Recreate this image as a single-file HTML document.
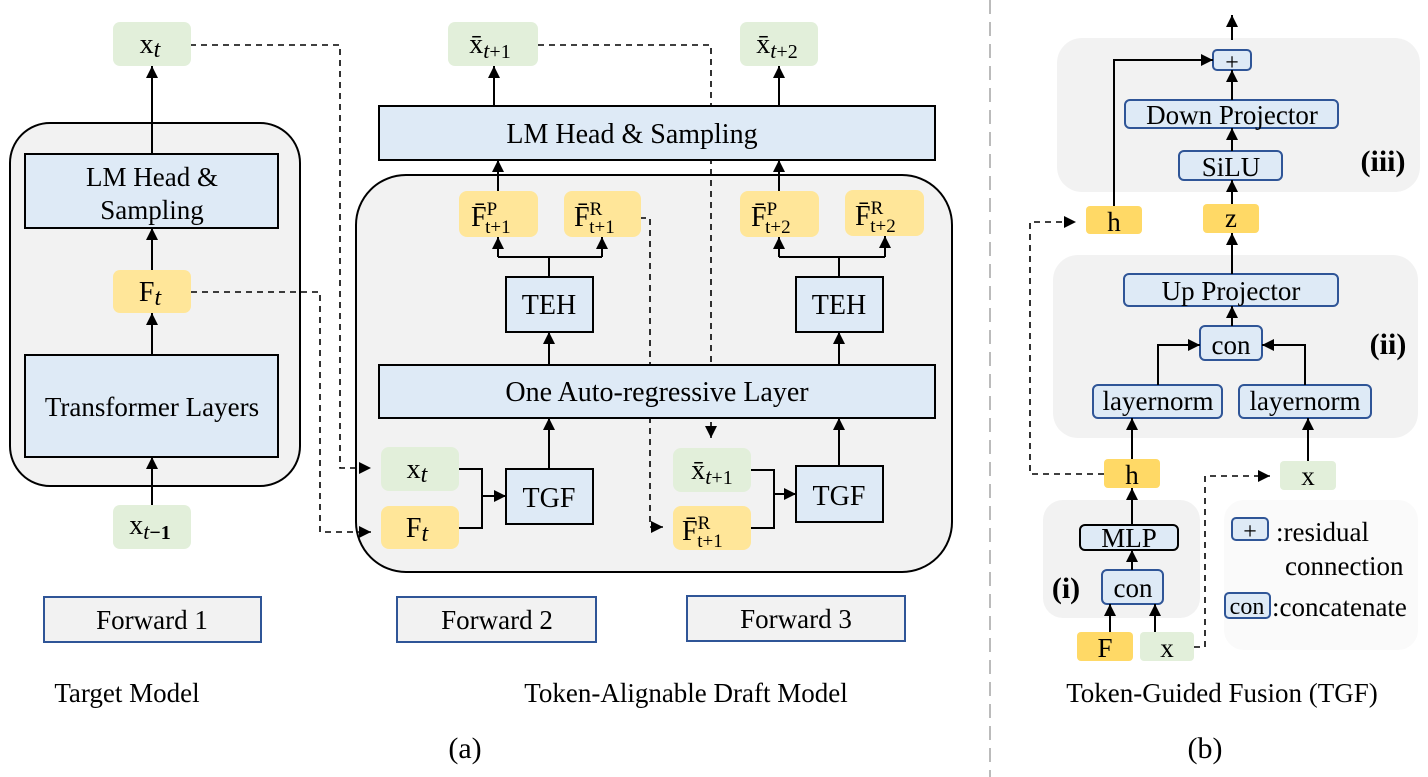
<!DOCTYPE html>
<html><head><meta charset="utf-8"><style>
html,body{margin:0;padding:0;background:#fff;}
svg{display:block;font-family:"Liberation Serif",serif;}
</style></head><body>
<svg width="1428" height="777" viewBox="0 0 1428 777" xmlns="http://www.w3.org/2000/svg">
<defs>
<marker id="a" viewBox="0 0 10 10" refX="10" refY="5" markerWidth="12" markerHeight="12" markerUnits="userSpaceOnUse" orient="auto"><path d="M0,0L10,5L0,10z" fill="#000"/></marker>
</defs>
<line x1="990" y1="0" x2="990" y2="777" stroke="#bbb" stroke-width="2" stroke-dasharray="14,8"/>

<!-- big containers -->
<rect x="10" y="123" width="290" height="363" rx="40" fill="#f2f2f2" stroke="#000" stroke-width="2"/>
<rect x="356" y="175" width="596" height="397" rx="50" fill="#f2f2f2" stroke="#000" stroke-width="2"/>
<rect x="1057" y="38" width="363" height="154" rx="25" fill="#f2f2f2"/>
<rect x="1053" y="255" width="365" height="183" rx="25" fill="#f2f2f2"/>
<rect x="1043" y="500" width="157" height="118" rx="20" fill="#f2f2f2"/>
<rect x="1224" y="500" width="194" height="150" rx="20" fill="#fafafa"/>

<!-- dashed connectors -->
<g fill="none" stroke="#000" stroke-width="1.6" stroke-dasharray="6,5">
<path d="M190,45H340V468H371" marker-end="url(#a)"/>
<path d="M191,292H320V532H371" marker-end="url(#a)"/>
<path d="M538,45H711V438" marker-end="url(#a)"/>
<path d="M640,218H650V527H663" marker-end="url(#a)"/>
<path d="M1104,474H1030V222H1076" marker-end="url(#a)"/>
<path d="M1194,647H1205V476H1270" marker-end="url(#a)"/>
</g>

<!-- Target model -->
<rect x="25" y="154" width="253" height="74" fill="#deeaf6" stroke="#000" stroke-width="2"/>
<text x="152" y="186" font-size="27" text-anchor="middle">LM Head &amp;</text>
<text x="152" y="219" font-size="27" text-anchor="middle">Sampling</text>
<rect x="25" y="355" width="253" height="102" fill="#deeaf6" stroke="#000" stroke-width="2"/>
<text x="152" y="416" font-size="27" text-anchor="middle">Transformer Layers</text>
<rect x="113" y="22" width="78" height="44" rx="7" fill="#e2efda"/>
<text x="150" y="53" font-size="28" text-anchor="middle">x<tspan font-style="italic" font-size="24" dy="4">t</tspan></text>
<rect x="113" y="270" width="78" height="43" rx="7" fill="#ffe699"/>
<text x="150" y="301" font-size="28" text-anchor="middle">F<tspan font-style="italic" font-size="24" dy="4">t</tspan></text>
<rect x="113" y="505" width="78" height="44" rx="7" fill="#e2efda"/>
<text x="150" y="534" font-size="28" text-anchor="middle">x<tspan font-style="italic" font-size="22" dy="5">t</tspan><tspan font-size="20" font-weight="bold">−1</tspan></text>
<g stroke="#000" stroke-width="2" marker-end="url(#a)">
<line x1="152" y1="505" x2="152" y2="457"/>
<line x1="152" y1="355" x2="152" y2="313"/>
<line x1="152" y1="270" x2="152" y2="228"/>
<line x1="152" y1="154" x2="152" y2="66"/>
</g>
<rect x="44" y="597" width="217" height="45" fill="#f2f2f2" stroke="#2f5597" stroke-width="2"/>
<text x="152" y="629" font-size="27" text-anchor="middle">Forward 1</text>
<text x="127" y="702" font-size="27" text-anchor="middle">Target Model</text>

<!-- Draft model -->
<rect x="379" y="106" width="556" height="54" fill="#deeaf6" stroke="#000" stroke-width="2"/>
<text x="632" y="143" font-size="28" text-anchor="middle">LM Head &amp; Sampling</text>
<rect x="448" y="22" width="90" height="44" rx="7" fill="#e2efda"/>
<text x="490" y="53" font-size="28" text-anchor="middle">x̄<tspan font-style="italic" font-size="22" dy="5">t</tspan><tspan font-size="20">+1</tspan></text>
<rect x="740" y="22" width="78" height="44" rx="7" fill="#e2efda"/>
<text x="777" y="53" font-size="28" text-anchor="middle">x̄<tspan font-style="italic" font-size="22" dy="5">t</tspan><tspan font-size="20">+2</tspan></text>

<g font-size="28">
<rect x="459" y="191" width="79" height="46" rx="8" fill="#ffe699"/>
<text x="471" y="226">F̄<tspan font-size="19" dy="-11">P</tspan><tspan font-size="19" dx="-12" dy="18">t+1</tspan></text>
<rect x="564" y="191" width="77" height="46" rx="8" fill="#ffe699"/>
<text x="574" y="226">F̄<tspan font-size="19" dy="-11">R</tspan><tspan font-size="19" dx="-13" dy="18">t+1</tspan></text>
<rect x="740" y="191" width="79" height="46" rx="8" fill="#ffe699"/>
<text x="751" y="226">F̄<tspan font-size="19" dy="-11">P</tspan><tspan font-size="19" dx="-12" dy="18">t+2</tspan></text>
<rect x="845" y="190" width="79" height="46" rx="8" fill="#ffe699"/>
<text x="855" y="225">F̄<tspan font-size="19" dy="-11">R</tspan><tspan font-size="19" dx="-13" dy="18">t+2</tspan></text>
</g>

<rect x="506" y="277" width="87" height="55" fill="#deeaf6" stroke="#000" stroke-width="2"/>
<text x="549" y="314" font-size="28" text-anchor="middle">TEH</text>
<rect x="796" y="277" width="87" height="55" fill="#deeaf6" stroke="#000" stroke-width="2"/>
<text x="839" y="314" font-size="28" text-anchor="middle">TEH</text>
<rect x="379" y="365" width="556" height="53" fill="#deeaf6" stroke="#000" stroke-width="2"/>
<text x="657" y="401" font-size="28" text-anchor="middle">One Auto-regressive Layer</text>
<rect x="506" y="469" width="87" height="55" fill="#deeaf6" stroke="#000" stroke-width="2"/>
<text x="549" y="507" font-size="28" text-anchor="middle">TGF</text>
<rect x="796" y="466" width="87" height="56" fill="#deeaf6" stroke="#000" stroke-width="2"/>
<text x="839" y="505" font-size="28" text-anchor="middle">TGF</text>

<rect x="381" y="447" width="78" height="44" rx="8" fill="#e2efda"/>
<text x="417" y="478" font-size="28" text-anchor="middle">x<tspan font-style="italic" font-size="24" dy="4">t</tspan></text>
<rect x="381" y="506" width="78" height="43" rx="8" fill="#ffe699"/>
<text x="417" y="537" font-size="28" text-anchor="middle">F<tspan font-style="italic" font-size="24" dy="4">t</tspan></text>
<rect x="673" y="448" width="78" height="44" rx="8" fill="#e2efda"/>
<text x="712" y="479" font-size="28" text-anchor="middle">x̄<tspan font-style="italic" font-size="22" dy="5">t</tspan><tspan font-size="20">+1</tspan></text>
<rect x="673" y="506" width="78" height="44" rx="8" fill="#ffe699"/>
<text x="682" y="540" font-size="28">F̄<tspan font-size="19" dy="-11">R</tspan><tspan font-size="19" dx="-13" dy="18">t+1</tspan></text>

<g stroke="#000" stroke-width="2" fill="none">
<path d="M549,277V257M498,257H602"/>
<path d="M839,277V257M779,257H885"/>
<path d="M459,469H482V528H459"/>
<path d="M751,470H774V528H751"/>
</g>
<g stroke="#000" stroke-width="2" marker-end="url(#a)">
<line x1="498" y1="191" x2="498" y2="160"/>
<line x1="779" y1="191" x2="779" y2="160"/>
<line x1="494" y1="106" x2="494" y2="66"/>
<line x1="779" y1="106" x2="779" y2="66"/>
<line x1="498" y1="257" x2="498" y2="237"/>
<line x1="602" y1="257" x2="602" y2="237"/>
<line x1="779" y1="257" x2="779" y2="237"/>
<line x1="885" y1="257" x2="885" y2="236"/>
<line x1="549" y1="365" x2="549" y2="332"/>
<line x1="839" y1="365" x2="839" y2="332"/>
<line x1="549" y1="469" x2="549" y2="418"/>
<line x1="839" y1="466" x2="839" y2="418"/>
<line x1="482" y1="496" x2="506" y2="496"/>
<line x1="774" y1="494" x2="796" y2="494"/>
</g>

<rect x="397" y="597" width="199" height="45" fill="#f2f2f2" stroke="#2f5597" stroke-width="2"/>
<text x="497" y="629" font-size="27" text-anchor="middle">Forward 2</text>
<rect x="687" y="596" width="218" height="45" fill="#f2f2f2" stroke="#2f5597" stroke-width="2"/>
<text x="796" y="628" font-size="27" text-anchor="middle">Forward 3</text>
<text x="686" y="702" font-size="27" text-anchor="middle">Token-Alignable Draft Model</text>
<text x="465" y="758" font-size="30" text-anchor="middle">(a)</text>

<!-- Right: TGF -->
<g stroke="#2f5597" stroke-width="2" fill="#deeaf6">
<rect x="1213" y="50" width="38" height="20" rx="4"/>
<rect x="1125" y="100" width="213" height="28" rx="5"/>
<rect x="1179" y="151" width="103" height="29" rx="5"/>
<rect x="1124" y="274" width="214" height="32" rx="5"/>
<rect x="1200" y="326" width="62" height="34" rx="5"/>
<rect x="1093" y="385" width="129" height="33" rx="5"/>
<rect x="1239" y="385" width="132" height="33" rx="5"/>
<rect x="1102" y="570" width="61" height="34" rx="5"/>
<rect x="1232" y="518" width="36" height="22" rx="4"/>
<rect x="1225" y="593" width="45" height="25" rx="4"/>
</g>
<rect x="1080" y="525" width="98" height="25" rx="5" fill="#deeaf6" stroke="#000" stroke-width="2"/>
<rect x="1086" y="206" width="56" height="28" rx="4" fill="#ffd966"/>
<rect x="1203" y="204" width="56" height="29" rx="4" fill="#ffd966"/>
<rect x="1104" y="459" width="56" height="29" rx="4" fill="#ffd966"/>
<rect x="1280" y="461" width="56" height="29" rx="4" fill="#e2efda"/>
<rect x="1077" y="632" width="56" height="29" rx="4" fill="#ffd966"/>
<rect x="1140" y="632" width="54" height="29" rx="4" fill="#e2efda"/>

<g font-size="27" text-anchor="middle">
<text x="1232" y="70" font-size="24">+</text>
<text x="1232" y="124">Down Projector</text>
<text x="1231" y="176">SiLU</text>
<text x="1114" y="231">h</text>
<text x="1231" y="227">z</text>
<text x="1231" y="300">Up Projector</text>
<text x="1231" y="354">con</text>
<text x="1158" y="410">layernorm</text>
<text x="1305" y="410">layernorm</text>
<text x="1132" y="484">h</text>
<text x="1308" y="485">x</text>
<text x="1129" y="547">MLP</text>
<text x="1133" y="597">con</text>
<text x="1105" y="657">F</text>
<text x="1167" y="657">x</text>
<text x="1250" y="539" font-size="24">+</text>
<text x="1247" y="614" font-size="24">con</text>
</g>
<g font-size="27">
<text x="1276" y="541">:residual</text>
<text x="1285" y="575">connection</text>
<text x="1272" y="616">:concatenate</text>
</g>
<g font-size="30" font-weight="bold" text-anchor="middle">
<text x="1383" y="171">(iii)</text>
<text x="1388" y="354">(ii)</text>
<text x="1066" y="598">(i)</text>
</g>
<g stroke="#000" stroke-width="2" fill="none" marker-end="url(#a)">
<line x1="1232" y1="40" x2="1232" y2="15"/>
<line x1="1232" y1="100" x2="1232" y2="70"/>
<line x1="1232" y1="151" x2="1232" y2="128"/>
<line x1="1232" y1="204" x2="1232" y2="180"/>
<line x1="1232" y1="274" x2="1232" y2="233"/>
<line x1="1232" y1="326" x2="1232" y2="306"/>
<path d="M1114,206V60H1213"/>
<path d="M1158,385V345H1200"/>
<path d="M1305,385V345H1262"/>
<line x1="1132" y1="459" x2="1132" y2="418"/>
<line x1="1308" y1="461" x2="1308" y2="418"/>
<line x1="1132" y1="525" x2="1132" y2="488"/>
<line x1="1132" y1="570" x2="1132" y2="550"/>
<line x1="1110" y1="632" x2="1110" y2="604"/>
<line x1="1155" y1="632" x2="1155" y2="604"/>
</g>
<text x="1222" y="702" font-size="27" text-anchor="middle">Token-Guided Fusion (TGF)</text>
<text x="1205" y="758" font-size="30" text-anchor="middle">(b)</text>
</svg>
</body></html>
